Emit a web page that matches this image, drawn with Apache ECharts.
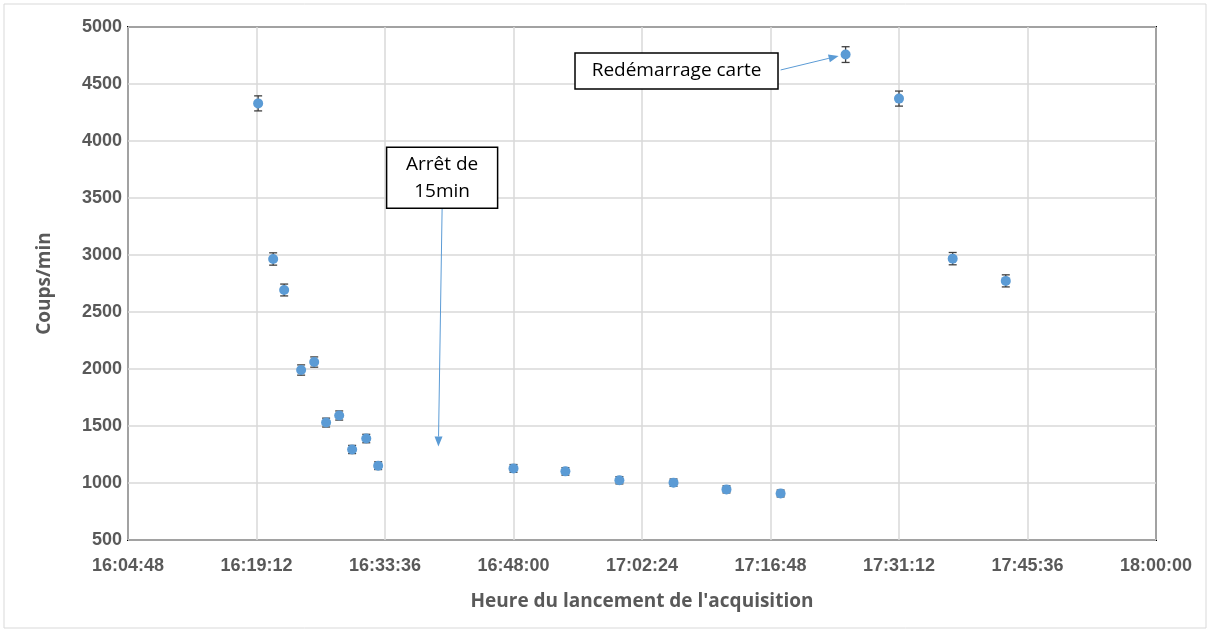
<!DOCTYPE html>
<html lang="fr">
<head>
<meta charset="UTF-8">
<title>Coups/min</title>
<script src="https://cdn.jsdelivr.net/npm/echarts@6/dist/echarts.min.js"></script>
<style>
  html, body { margin: 0; padding: 0; background: #fff; }
  #chart { width: 1211px; height: 633px; }
</style>
</head>
<body>
<div id="chart"></div>
<script>
// heures de lancement
var heures = ['16:19:23', '16:21:04', '16:22:18', '16:24:12', '16:25:40', '16:27:00', '16:28:28',
              '16:29:55', '16:31:30', '16:32:50', '16:48:00', '16:53:49', '16:59:52', '17:05:56',
              '17:11:52', '17:17:56', '17:25:13', '17:31:12', '17:37:13', '17:43:10'];
// coups/min
var coups = [4330, 2965, 2693, 1991, 2061, 1530, 1592, 1294, 1390, 1152,
             1128, 1102, 1024, 1003, 944, 908, 4758, 4372, 2968, 2773];
// barres d'erreur
var erreurs = [66, 54, 52, 45, 45, 39, 40, 36, 37, 34, 34, 33, 32, 32, 31, 30, 69, 66, 54, 53];

var xTicks = ['16:04:48', '16:19:12', '16:33:36', '16:48:00', '17:02:24', '17:16:48', '17:31:12', '17:45:36', '18:00:00'];

// annotations : texte, centre de la boite, pointe de la fleche
var notes = [
    { text: 'Redémarrage carte', box: ['17:06:16', 4614], w: 203, h: 36, from: ['17:17:56', 4623], to: ['17:24:26', 4746] },
    { text: 'Arrêt de\n15min', box: ['16:40:00', 3677], w: 111, h: 61, from: ['16:40:00', 3410], to: ['16:39:35', 1320] }
];

function toSec(s) {
    var p = s.split(':');
    return (+p[0]) * 3600 + (+p[1]) * 60 + (+p[2]);
}
function fmt(v) {
    var h = Math.floor(v / 3600), m = Math.floor((v % 3600) / 60), s = Math.round(v % 60);
    return h + ':' + String(m).padStart(2, '0') + ':' + String(s).padStart(2, '0');
}

var points = heures.map(function (h, i) { return [toSec(h), coups[i]]; });
var barres = heures.map(function (h, i) { return [toSec(h), coups[i] - erreurs[i], coups[i] + erreurs[i]]; });

var chart = echarts.init(document.getElementById('chart'));
var txt = '#595959';

var option = {
    animation: false,
    grid: { left: 128, right: 55, top: 27, bottom: 93, show: true, borderColor: '#000', borderWidth: 2 },
    xAxis: {
        type: 'value',
        min: toSec(xTicks[0]),
        max: toSec(xTicks[xTicks.length - 1]),
        interval: 864,
        name: "Heure du lancement de l'acquisition",
        nameLocation: 'middle',
        nameGap: 52,
        nameTextStyle: { color: txt, fontFamily: 'Open Sans', fontWeight: 'bold', fontSize: 19 },
        axisLine: { show: false },
        axisTick: { show: false },
        axisLabel: { formatter: fmt, color: txt, fontFamily: 'Liberation Sans', fontWeight: 'bold', fontSize: 18, margin: 17 },
        splitLine: { show: true, lineStyle: { color: '#d9d9d9', width: 1.5 } }
    },
    yAxis: {
        type: 'value',
        min: 500,
        max: 5000,
        interval: 500,
        name: 'Coups/min',
        nameLocation: 'middle',
        nameGap: 74,
        nameTextStyle: { color: txt, fontFamily: 'Open Sans', fontWeight: 'bold', fontSize: 19 },
        axisLine: { show: false },
        axisTick: { show: false },
        axisLabel: { formatter: function (v) { return String(v); }, color: txt, fontFamily: 'Liberation Sans', fontWeight: 'bold', fontSize: 18, margin: 6 },
        splitLine: { show: true, lineStyle: { color: '#d9d9d9', width: 1.5 } }
    },
    series: [
        {
            type: 'custom',
            data: barres,
            z: 3,
            renderItem: function (params, api) {
                var x = api.value(0);
                var lo = api.coord([x, api.value(1)]);
                var hi = api.coord([x, api.value(2)]);
                var c = 4;
                var st = { stroke: '#404040', lineWidth: 1.3 };
                return {
                    type: 'group',
                    children: [
                        { type: 'line', shape: { x1: lo[0], y1: lo[1], x2: hi[0], y2: hi[1] }, style: st },
                        { type: 'line', shape: { x1: lo[0] - c, y1: lo[1], x2: lo[0] + c, y2: lo[1] }, style: st },
                        { type: 'line', shape: { x1: hi[0] - c, y1: hi[1], x2: hi[0] + c, y2: hi[1] }, style: st }
                    ]
                };
            }
        },
        {
            type: 'scatter',
            data: points,
            z: 4,
            symbol: 'circle',
            symbolSize: 10,
            itemStyle: { color: '#5b9bd5', opacity: 1 }
        }
    ]
};
chart.setOption(option);

// annotations placees a partir des coordonnees de donnees
var graphics = [
    { type: 'rect', shape: { x: 4, y: 4, width: 1202, height: 624 }, style: { fill: null, stroke: '#d9d9d9', lineWidth: 1 }, silent: true }
];
notes.forEach(function (n) {
    var c = chart.convertToPixel({ gridIndex: 0 }, [toSec(n.box[0]), n.box[1]]);
    var a = chart.convertToPixel({ gridIndex: 0 }, [toSec(n.from[0]), n.from[1]]);
    var b = chart.convertToPixel({ gridIndex: 0 }, [toSec(n.to[0]), n.to[1]]);
    var ang = Math.atan2(b[1] - a[1], b[0] - a[0]);
    var L = 10, W = 4;
    var bx = b[0] - L * Math.cos(ang), by = b[1] - L * Math.sin(ang);
    graphics.push({
        type: 'line', z: 10,
        shape: { x1: a[0], y1: a[1], x2: bx, y2: by },
        style: { stroke: '#5b9bd5', lineWidth: 1 }
    });
    graphics.push({
        type: 'polygon', z: 10,
        shape: { points: [[b[0], b[1]], [bx - W * Math.sin(ang), by + W * Math.cos(ang)], [bx + W * Math.sin(ang), by - W * Math.cos(ang)]] },
        style: { fill: '#5b9bd5' }
    });
    graphics.push({
        type: 'rect', z: 11,
        shape: { x: c[0] - n.w / 2, y: c[1] - n.h / 2, width: n.w, height: n.h },
        style: { fill: '#fff', stroke: '#000', lineWidth: 1.5 }
    });
    graphics.push({
        type: 'text', z: 12,
        x: c[0], y: c[1],
        style: { text: n.text, fill: '#000', font: '19px "Open Sans"', align: 'center', verticalAlign: 'middle', lineHeight: 27 }
    });
});
chart.setOption({ graphic: graphics });
</script>
</body>
</html>
